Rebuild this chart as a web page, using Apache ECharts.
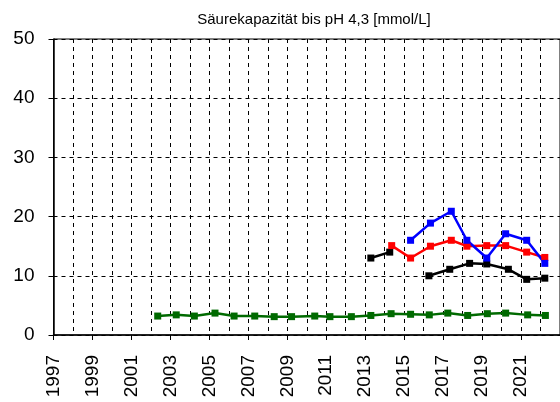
<!DOCTYPE html>
<html>
<head>
<meta charset="utf-8">
<script src="https://cdn.jsdelivr.net/npm/echarts@6/dist/echarts.min.js"></script>
<style>
  html, body { margin: 0; padding: 0; background: #fff; }
  #chart { width: 560px; height: 402px; }
</style>
</head>
<body>
<div id="chart"></div>
<script>
const greenYears = [2002.35, 2003.3, 2004.23, 2005.29, 2006.27, 2007.33, 2008.33, 2009.22, 2010.41, 2011.19, 2012.29,
  2013.29, 2014.33, 2015.33, 2016.29, 2017.24, 2018.26, 2019.27, 2020.21, 2021.34, 2022.25]
const greenValues = [3.2, 3.4, 3.2, 3.7, 3.2, 3.2, 3.1, 3.1, 3.2, 3.1, 3.1,
  3.3, 3.6, 3.5, 3.4, 3.7, 3.3, 3.6, 3.7, 3.4, 3.3]

const blackAYears = [2013.29, 2014.26]
const blackAValues = [13.0, 14.0]

const blackBYears = [2016.27, 2017.34, 2018.36, 2019.24, 2020.35, 2021.29, 2022.22]
const blackBValues = [10.0, 11.1, 12.1, 12.0, 11.1, 9.4, 9.6]

const redYears = [2014.36, 2015.33, 2016.35, 2017.42, 2018.22, 2019.24, 2020.21, 2021.29, 2022.22]
const redValues = [15.1, 13.0, 15.0, 16.0, 15.0, 15.1, 15.1, 14.0, 13.1]

const blueYears = [2015.33, 2016.35, 2017.42, 2018.22, 2019.24, 2020.21, 2021.29, 2022.22]
const blueValues = [16.0, 18.9, 20.9, 16.0, 13.0, 17.1, 16.0, 12.1]

const yTicks = [0, 10, 20, 30, 40, 50]

const font = 'Liberation Sans, Arial, sans-serif'

function pairs(xs, ys) {
  return xs.map((x, i) => [x, ys[i]])
}

function lineSeries(name, color, xs, ys) {
  return {
    name: name,
    type: 'line',
    data: pairs(xs, ys),
    symbol: 'rect',
    symbolSize: 7,
    showSymbol: true,
    lineStyle: { color: color, width: 2.5 },
    itemStyle: { color: color },
    animation: false,
  }
}

const myChart = echarts.init(document.getElementById('chart'))

let option = {
  backgroundColor: '#fff',
  title: {
    text: 'Säurekapazität bis pH 4,3 [mmol/L]',
    left: 309,
    textAlign: 'center',
    top: 7,
    textStyle: { fontFamily: font, fontSize: 15, fontWeight: 'normal', color: '#000' },
  },
  grid: {
    left: 53.5,
    right: -4.8,
    top: 39,
    bottom: 67,
    show: true,
    borderColor: '#000',
    borderWidth: 1,
    backgroundColor: 'transparent',
  },
  xAxis: {
    type: 'value',
    min: 1997,
    max: 2023,
    interval: 2,
    axisLine: { show: true, onZero: false, lineStyle: { color: '#000', width: 1.5 } },
    axisTick: { show: true, length: 5, lineStyle: { color: '#000' } },
    minorTick: { show: false, splitNumber: 2 },
    minorSplitLine: { show: true, lineStyle: { color: '#000', type: [4, 4], width: 1 } },
    splitLine: { show: true, lineStyle: { color: '#000', type: [4, 4], width: 1 } },
    axisLabel: {
      rotate: 90,
      margin: 20,
      fontFamily: font,
      fontSize: 19,
      color: '#000',
      formatter: v => (v < 2023 ? String(v) : ''),
    },
  },
  yAxis: {
    type: 'value',
    min: yTicks[0],
    max: yTicks[yTicks.length - 1],
    interval: 10,
    axisLine: { show: true, lineStyle: { color: '#000', width: 1.5 } },
    axisTick: { show: true, length: 5, lineStyle: { color: '#000' } },
    splitLine: { show: true, lineStyle: { color: '#000', type: [4, 4], width: 1 } },
    axisLabel: { margin: 19, fontFamily: font, fontSize: 19, color: '#000' },
  },
  series: [
    lineSeries('grün', '#006a00', greenYears, greenValues),
    lineSeries('schwarz A', '#000000', blackAYears, blackAValues),
    lineSeries('schwarz B', '#000000', blackBYears, blackBValues),
    lineSeries('rot', '#ff0000', redYears, redValues),
    lineSeries('blau', '#0000ff', blueYears, blueValues),
  ],
}

myChart.setOption(option)
</script>
</body>
</html>
